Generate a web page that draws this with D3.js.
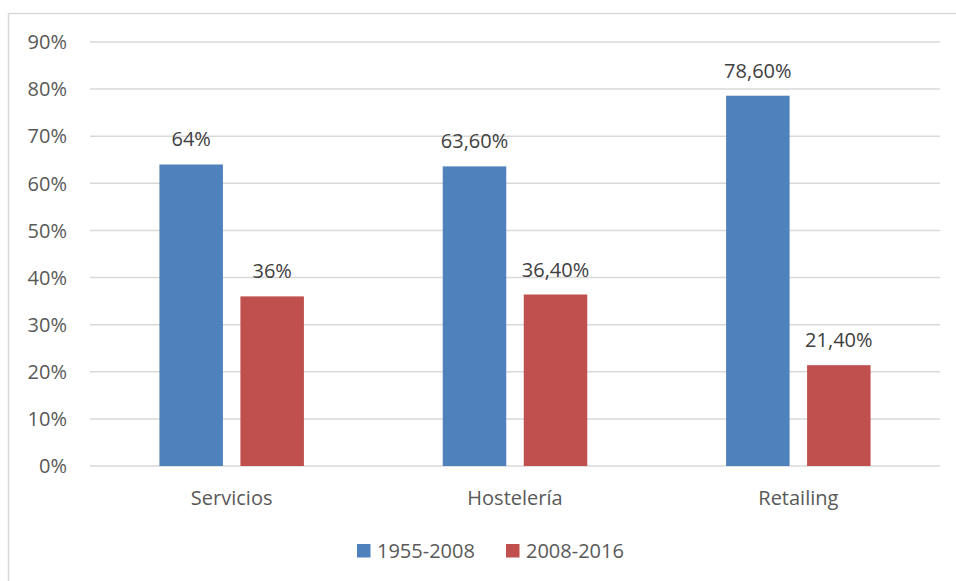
<!DOCTYPE html>
<meta charset="utf-8">
<script src="https://d3js.org/d3.v7.min.js"></script>
<style>
  body { margin: 0; background: #fff; }
  text { font-family: "Open Sans", sans-serif; fill: #595959; }
</style>
<div id="chart"></div>
<script>

// data
var categories = ["Servicios", "Hostelería", "Retailing"];
var seriesNames = ["1955-2008", "2008-2016"];
var values1955 = [64, 63.6, 78.6];
var values2008 = [36, 36.4, 21.4];
var labels1955 = ["64%", "63,60%", "78,60%"];
var labels2008 = ["36%", "36,40%", "21,40%"];
var yTicks = [0, 10, 20, 30, 40, 50, 60, 70, 80, 90];
var colors = ["#4F81BD", "#C0504D"];

var W = 956, H = 581;
var margin = {top: 42, right: 16, bottom: 115, left: 90},
    width = W - margin.left - margin.right,
    height = H - margin.top - margin.bottom;

var svg = d3.select("#chart").append("svg")
    .attr("width", W).attr("height", H);

// outer frame (continues off the right / bottom edge)
svg.append("rect")
    .attr("x", 8.5).attr("y", 13.5)
    .attr("width", W + 20).attr("height", H + 20)
    .attr("fill", "none").attr("stroke", "#D9D9D9").attr("stroke-width", 1.5);

var g = svg.append("g")
    .attr("transform", "translate(" + margin.left + "," + margin.top + ")");

var x = d3.scaleBand().domain(categories).range([0, width]);
var y = d3.scaleLinear().domain([0, 90]).range([height, 0]);

// gridlines
g.selectAll(".grid").data(yTicks).enter().append("line")
    .attr("x1", 0).attr("x2", width)
    .attr("y1", function(d) { return y(d); })
    .attr("y2", function(d) { return y(d); })
    .attr("stroke", "#D9D9D9").attr("stroke-width", 1.5);

// y labels
g.selectAll(".ylab").data(yTicks).enter().append("text")
    .attr("x", -23)
    .attr("y", function(d) { return y(d); })
    .attr("dy", "0.36em")
    .attr("text-anchor", "end")
    .style("font-size", "20px")
    .text(function(d) { return d + "%"; });

// bars
var barW = 63.5, gap = 17.5;
var series = [
  {vals: values1955, labs: labels1955, off: -gap / 2 - barW},
  {vals: values2008, labs: labels2008, off: gap / 2}
];

series.forEach(function(s, i) {
  g.selectAll(".bar" + i).data(categories).enter().append("rect")
      .attr("x", function(d) { return x(d) + x.bandwidth() / 2 + s.off; })
      .attr("y", function(d, j) { return y(s.vals[j]); })
      .attr("width", barW)
      .attr("height", function(d, j) { return height - y(s.vals[j]); })
      .attr("fill", colors[i]);

  g.selectAll(".lab" + i).data(categories).enter().append("text")
      .attr("x", function(d) { return x(d) + x.bandwidth() / 2 + s.off + barW / 2; })
      .attr("y", function(d, j) { return y(s.vals[j]) - 18; })
      .attr("text-anchor", "middle")
      .style("font-size", "20px")
      .style("fill", "#404040")
      .text(function(d, j) { return s.labs[j]; });
});

// x labels
g.selectAll(".xlab").data(categories).enter().append("text")
    .attr("x", function(d) { return x(d) + x.bandwidth() / 2; })
    .attr("y", height + 39)
    .attr("text-anchor", "middle")
    .style("font-size", "20px")
    .text(function(d) { return d; });

// legend
var legX = [357, 506];
seriesNames.forEach(function(n, i) {
  svg.append("rect")
      .attr("x", legX[i]).attr("y", 544)
      .attr("width", 13.5).attr("height", 13.5)
      .attr("fill", colors[i]);
  svg.append("text")
      .attr("x", legX[i] + 20).attr("y", 558)
      .style("font-size", "20px")
      .text(n);
});

</script>
